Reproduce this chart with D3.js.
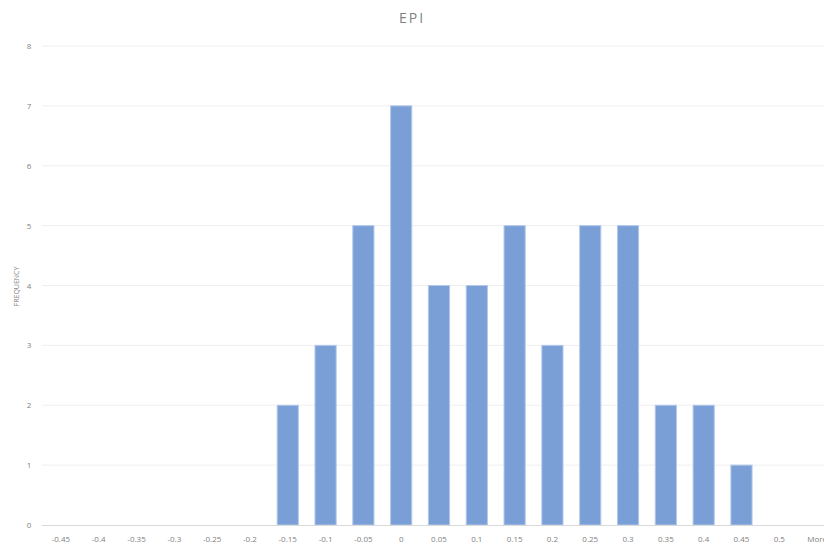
<!DOCTYPE html>
<html>
<head>
<meta charset="utf-8">
<script src="https://cdn.jsdelivr.net/npm/d3@7"></script>
<style>
  body { margin: 0; background: #fff; overflow: hidden; }
  text { font-family: "Open Sans", "Noto Sans", sans-serif; }
</style>
</head>
<body>
<div id="my_dataviz"></div>
<script>
// bins and counts
var bins = ["-0.45", "-0.4", "-0.35", "-0.3", "-0.25", "-0.2", "-0.15", "-0.1", "-0.05", "0",
            "0.05", "0.1", "0.15", "0.2", "0.25", "0.3", "0.35", "0.4", "0.45", "0.5", "More"];
var counts = [0, 0, 0, 0, 0, 0, 2, 3, 5, 7, 4, 4, 5, 3, 5, 5, 2, 2, 1, 0, 0];
var yTicks = [0, 1, 2, 3, 4, 5, 6, 7, 8];

var margin = {top: 46, right: 0, bottom: 19, left: 42},
    width = 794,
    height = 544 - margin.top - margin.bottom;

var svg = d3.select("#my_dataviz")
  .append("svg")
    .attr("width", 824)
    .attr("height", 544)
  .append("g")
    .attr("transform", "translate(" + margin.left + "," + margin.top + ")");

var x = d3.scaleBand()
  .range([0, width])
  .domain(bins)
  .paddingInner(0.44)
  .paddingOuter(0.22);

var y = d3.scaleLinear()
  .domain([0, 8])
  .range([height, 0]);

// gridlines
svg.selectAll("line.grid")
  .data(yTicks.slice(1))
  .enter()
  .append("line")
    .attr("x1", 0)
    .attr("x2", width)
    .attr("y1", function(d) { return y(d); })
    .attr("y2", function(d) { return y(d); })
    .attr("stroke", "#efefef")
    .attr("stroke-width", 1);

// y labels
svg.selectAll("text.ylab")
  .data(yTicks)
  .enter()
  .append("text")
    .attr("x", -13)
    .attr("y", function(d) { return y(d) + 3; })
    .attr("text-anchor", "middle")
    .style("font-size", "8px")
    .style("fill", "#7f7f7f")
    .text(function(d) { return d; });

// bars
svg.selectAll("mybar")
  .data(counts)
  .enter()
  .append("rect")
    .attr("x", function(d, i) { return x(bins[i]); })
    .attr("y", function(d) { return y(d); })
    .attr("width", x.bandwidth())
    .attr("height", function(d) { return height - y(d); })
    .attr("fill", "#7a9fd7")
    .attr("stroke", "#b3c8ea")
    .attr("stroke-width", 1);

// x axis line
svg.append("line")
  .attr("x1", 0)
  .attr("x2", width)
  .attr("y1", height + 0.5)
  .attr("y2", height + 0.5)
  .attr("stroke", "#d9d9d9")
  .attr("stroke-width", 1);

// x labels
svg.selectAll("text.xlab")
  .data(bins)
  .enter()
  .append("text")
    .attr("x", function(d) { return x(d) + x.bandwidth() / 2; })
    .attr("y", height + 17)
    .attr("text-anchor", "middle")
    .style("font-size", "8px")
    .style("fill", "#7f7f7f")
    .text(function(d) { return d; });

// y title
svg.append("text")
  .attr("transform", "translate(-23," + (height / 2 + 1) + ")rotate(-90)")
  .attr("text-anchor", "middle")
  .style("font-size", "7px")
  .style("fill", "#7f7f7f")
  .text("FREQUENCY");

// title
d3.select("svg").append("text")
  .attr("x", 412)
  .attr("y", 23)
  .attr("text-anchor", "middle")
  .style("font-size", "14px")
  .style("letter-spacing", "2px")
  .style("fill", "#7f7f7f")
  .text("EPI");
</script>
</body>
</html>
